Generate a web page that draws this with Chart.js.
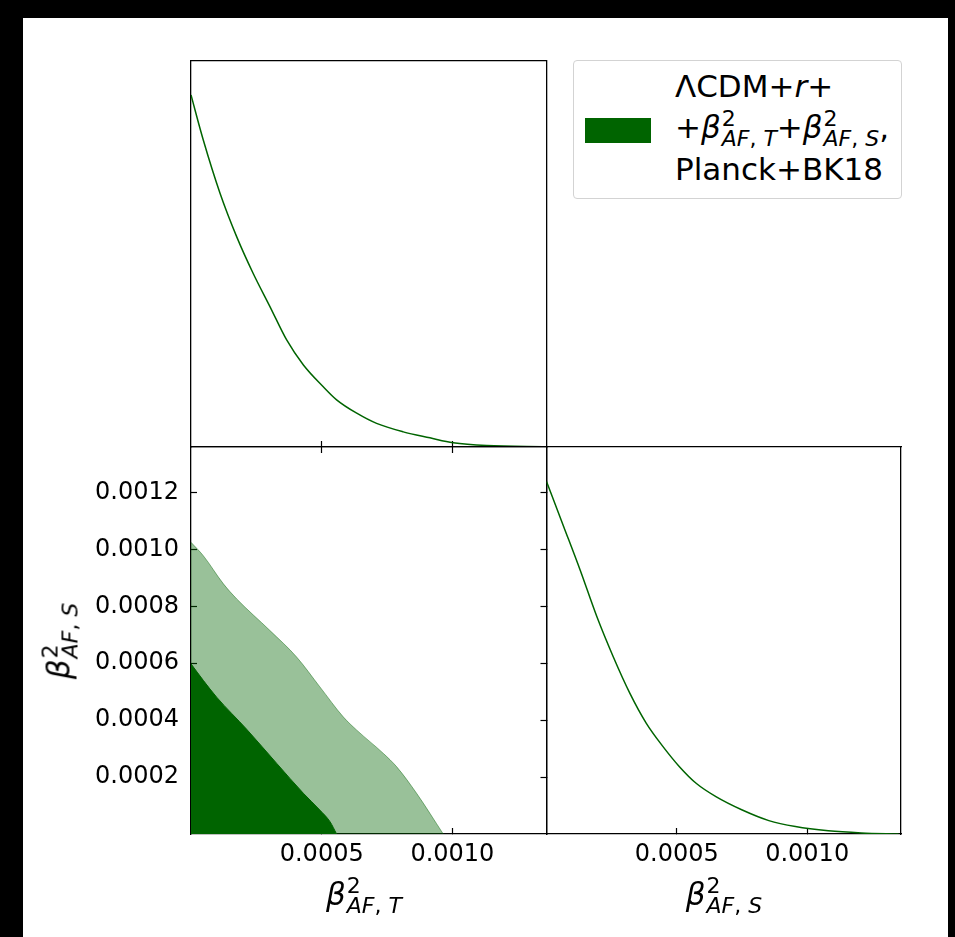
<!DOCTYPE html>
<html>
<head>
<meta charset="utf-8">
<title>beta_AF triangle plot</title>
<script src="https://cdn.jsdelivr.net/npm/chart.js@4.4.1/dist/chart.umd.min.js"></script>
<style>
  body { margin: 0; width: 955px; height: 937px; background: #000; overflow: hidden;
         font-family: 'DejaVu Sans', sans-serif; }
  #sheet { position: absolute; left: 23px; top: 18px; width: 925px; height: 919px; background: #fff; }
  canvas { position: absolute; }
  .math { position: absolute; white-space: nowrap; line-height: 1; color: #000; }
  .math i { font-style: italic; }
  /* subscript in the flow, superscript stacked above it */
  .sc { position: relative; top: 0.36em; font-size: 0.71em; margin-left: 0.04em; }
  .sc .sp { position: absolute; left: 0; top: -0.83em; font-style: normal; }
  #legend { position: absolute; left: 573px; top: 60px; width: 327px; height: 137px;
            border: 1px solid #d3d3d3; border-radius: 4px; background: #fff; }
  #patch { position: absolute; left: 11px; top: 57px; width: 66px; height: 25px; background: #006400; }
</style>
</head>
<body>
<div id="sheet"></div>

<canvas id="cTop" width="382" height="404" style="left:178px; top:50px"></canvas>
<canvas id="cMain" width="560" height="497" style="left:0px; top:440px"></canvas>
<canvas id="cRight" width="382" height="497" style="left:533px; top:440px"></canvas>

<div id="legend">
  <div id="patch"></div>
  <div class="math" style="left:101px; top:10px; font-size:31px">ΛCDM+<i>r</i>+</div>
  <div class="math" style="left:101px; top:51px; font-size:31px">+<i>β</i><span class="sc"><span class="sp">2</span><i>AF</i>, <i>T</i></span>+<i>β</i><span class="sc"><span class="sp">2</span><i>AF</i>, <i>S</i></span>,</div>
  <div class="math" style="left:101px; top:93px; font-size:31px">Planck+BK18</div>
</div>

<div class="math" style="left:364px; top:879px; font-size:31px; transform:translateX(-50%)"><i>β</i><span class="sc"><span class="sp">2</span><i>AF</i>, <i>T</i></span></div>
<div class="math" style="left:724px; top:879px; font-size:31px; transform:translateX(-50%)"><i>β</i><span class="sc"><span class="sp">2</span><i>AF</i>, <i>S</i></span></div>
<div class="math" style="left:59px; top:641px; font-size:31px; transform:translate(-50%,-50%) rotate(-90deg)"><i>β</i><span class="sc"><span class="sp">2</span><i>AF</i>, <i>S</i></span></div>

<script>
// both beta^2 parameters share this range; the 1D marginals are normalised to 1
const betaRange = [0, 0.00136];
const probRange = [0, 1.098];

const betaTicksX = [0.0005, 0.0010];
const betaTicksY = [0.0002, 0.0004, 0.0006, 0.0008, 0.0010, 0.0012];

// 1D marginal of beta^2_AF,T (top panel)
const margTx = [0, 0.000047, 0.000111, 0.000175, 0.000238, 0.000302, 0.000366, 0.000430, 0.000506,
                0.000557, 0.000634, 0.000710, 0.000812, 0.000914, 0.001003, 0.001131, 0.00136];
const margTp = [1.0, 0.872, 0.721, 0.597, 0.493, 0.399, 0.304, 0.233, 0.171,
                0.134, 0.096, 0.067, 0.043, 0.026, 0.012, 0.004, 0.001];

// 1D marginal of beta^2_AF,S (right panel)
const margSx = [0, 0.000066, 0.000129, 0.000193, 0.000256, 0.000320, 0.000383, 0.000447, 0.000510,
                0.000574, 0.000650, 0.000751, 0.000853, 0.000955, 0.001081, 0.001208, 0.001351];
const margSp = [1.0, 0.872, 0.749, 0.617, 0.503, 0.399, 0.314, 0.248, 0.191,
                0.144, 0.106, 0.068, 0.038, 0.021, 0.009, 0.003, 0.0];

// upper edge of the 95% region
const c95x = [0, 0.000047, 0.000124, 0.000175, 0.000302, 0.000404, 0.000493, 0.000583, 0.000634,
              0.000736, 0.000787, 0.000863, 0.000965];
const c95y = [0.001025, 0.000978, 0.000879, 0.000826, 0.000715, 0.000622, 0.000517, 0.000411, 0.000365,
              0.000283, 0.000236, 0.000143, 0];

// upper edge of the 68% region
const c68x = [0, 0.000047, 0.000098, 0.000213, 0.000328, 0.000430, 0.000493, 0.000532, 0.000557];
const c68y = [0.000598, 0.000540, 0.000481, 0.000368, 0.000248, 0.000143, 0.000084, 0.000043, 0];

const green = '#006400';
const tickFont = { family: 'DejaVu Sans', size: 24 };

function pts(xs, ys) {
  return xs.map((x, i) => ({ x: x, y: ys[i] }));
}

// one side of a panel frame; "room" fixes how much space the scale takes
// so the plot areas of the three charts line up
function side(position, range, room, ticks, labels, pad) {
  const horiz = position === 'top' || position === 'bottom';
  const s = {
    type: 'linear',
    position: position,
    min: range[0],
    max: range[1],
    border: { display: true, color: '#000', width: 1.3 },
    grid: { drawOnChartArea: false, drawTicks: !!ticks, tickLength: -6, tickColor: '#000', tickWidth: 1.2 },
    ticks: { display: !!labels, font: tickFont, color: '#000', padding: pad || 0,
             callback: v => v.toFixed(4) },
    afterFit: function(scale) {
      if (horiz) scale.height = room; else scale.width = room;
      scale.paddingTop = 0; scale.paddingBottom = 0;
      scale.paddingLeft = 0; scale.paddingRight = 0;
    }
  };
  if (ticks) {
    s.afterBuildTicks = function(scale) {
      scale.ticks = ticks.map(v => ({ value: v }));
    };
  }
  return s;
}

function panel(id, scales, datasets) {
  return new Chart(document.getElementById(id), {
    type: 'line',
    data: { datasets: datasets },
    options: {
      responsive: false,
      animation: false,
      layout: { padding: 0 },
      plugins: { legend: { display: false }, tooltip: { enabled: false } },
      elements: { point: { radius: 0 }, line: { cubicInterpolationMode: 'monotone' } },
      scales: scales
    }
  });
}

// top: marginal of beta^2_AF,T
panel('cTop', {
  x:  side('bottom', betaRange, 7, betaTicksX, false),
  x2: side('top', betaRange, 10.5),
  y:  side('left', probRange, 13),
  y2: side('right', probRange, 13.5)
}, [{
  data: pts(margTx, margTp), borderColor: green, borderWidth: 1.5, fill: false
}]);

// bottom left: 2D contours
panel('cMain', {
  x:  side('bottom', betaRange, 103, betaTicksX, true, 12),
  x2: side('top', betaRange, 7, betaTicksX, false),
  y:  side('left', betaRange, 191, betaTicksY, true, 18),
  y2: side('right', betaRange, 13.5, betaTicksY, false)
}, [{
  // 68% drawn last (index 0 sits on top)
  data: pts(c68x, c68y), borderColor: green, borderWidth: 1, backgroundColor: green, fill: 'origin'
}, {
  data: pts(c95x, c95y), borderColor: 'rgba(0,100,0,0.45)', borderWidth: 1,
  backgroundColor: 'rgba(0,100,0,0.4)', fill: 'origin'
}]);

// bottom right: marginal of beta^2_AF,S
panel('cRight', {
  x:  side('bottom', betaRange, 103, betaTicksX, true, 12),
  x2: side('top', betaRange, 7),
  y:  side('left', probRange, 13.5),
  y2: side('right', probRange, 14)
}, [{
  data: pts(margSx, margSp), borderColor: green, borderWidth: 1.5, fill: false
}]);
</script>
</body>
</html>
